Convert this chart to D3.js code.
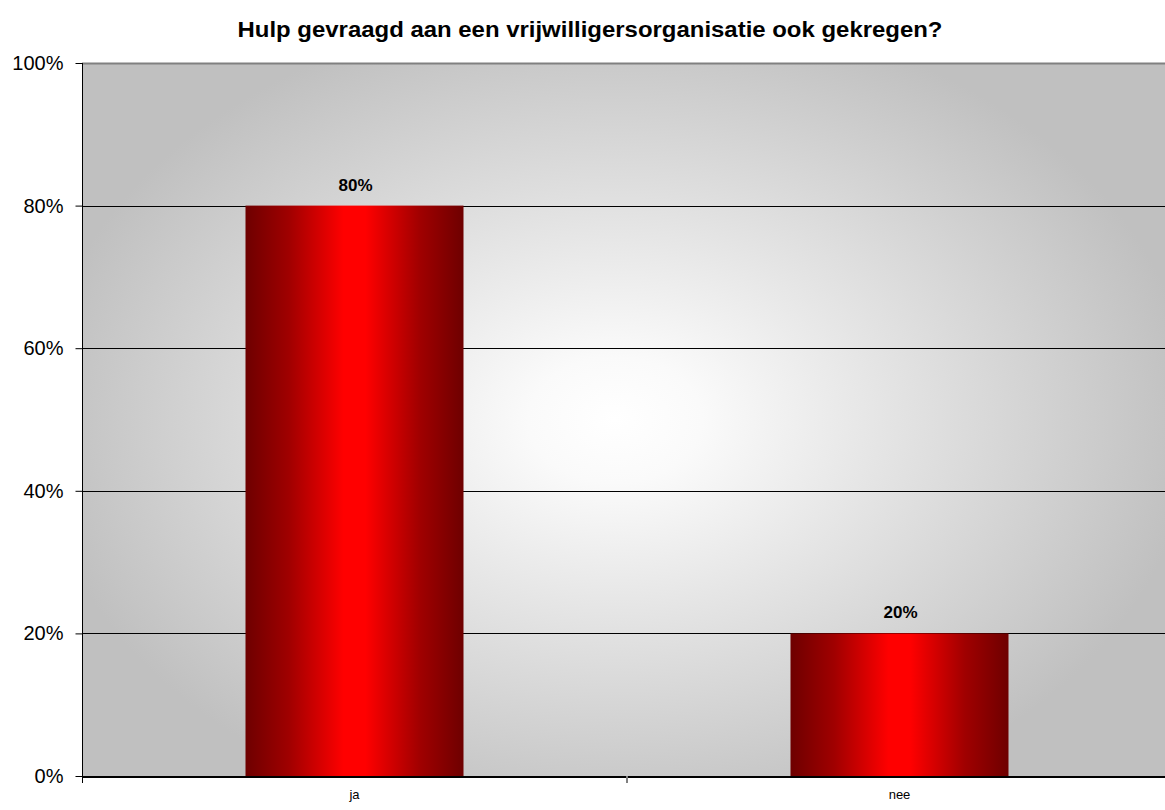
<!DOCTYPE html>
<html><head><meta charset="utf-8">
<script src="https://cdn.jsdelivr.net/npm/d3@7"></script>
<style>html,body{margin:0;padding:0;background:#fff;overflow:hidden}</style>
</head><body>
<svg id="c" width="1165" height="810"></svg>
<script>
const categories = ["ja", "nee"];
const values = [0.80, 0.20];
const labels = ["80%", "20%"];
const yTicks = [0, 0.2, 0.4, 0.6, 0.8, 1.0];
const title = "Hulp gevraagd aan een vrijwilligersorganisatie ook gekregen?";

const svg = d3.select("#c");
const L = 82, R = 1172, T = 63, B = 776;
const x = d3.scaleBand().domain(categories).range([L, R]).paddingInner(0.6).paddingOuter(0.3);
const y = d3.scaleLinear().domain([0, 1]).range([B, T]);

const defs = svg.append("defs");
const bg = defs.append("radialGradient").attr("id", "bg")
  .attr("gradientUnits", "userSpaceOnUse")
  .attr("cx", 615).attr("cy", 420).attr("r", 580)
  .attr("gradientTransform", "translate(615,420) scale(1,0.72) translate(-615,-420)");
bg.append("stop").attr("offset", "0%").attr("stop-color", "#ffffff");
bg.append("stop").attr("offset", "15%").attr("stop-color", "#fafafa");
bg.append("stop").attr("offset", "100%").attr("stop-color", "#c0c0c0");

const bar = defs.append("linearGradient").attr("id", "bar").attr("x1", 0).attr("x2", 1).attr("y1", 0).attr("y2", 0);
[[0, "#6e0000"], [0.2, "#a00000"], [0.45, "#ff0000"], [0.55, "#ff0000"], [0.8, "#a00000"], [1, "#6e0000"]]
  .forEach(([o, c]) => bar.append("stop").attr("offset", o).attr("stop-color", c));

svg.append("rect").attr("x", L).attr("y", T).attr("width", R - L).attr("height", B - T).attr("fill", "url(#bg)");

// gridlines
svg.append("g").selectAll("line").data(yTicks.filter(d => d > 0 && d < 1)).join("line")
  .attr("x1", L).attr("x2", R).attr("y1", d => Math.round(y(d)) + 0.5).attr("y2", d => Math.round(y(d)) + 0.5)
  .attr("stroke", "#000").attr("stroke-width", 1);
svg.append("line").attr("x1", L).attr("x2", R).attr("y1", T + 0.5).attr("y2", T + 0.5)
  .attr("stroke", "#808080").attr("stroke-width", 2);

// bars
svg.append("g").selectAll("rect").data(categories).join("rect")
  .attr("x", d => x(d)).attr("width", x.bandwidth())
  .attr("y", (d, i) => y(values[i])).attr("height", (d, i) => B - y(values[i]))
  .attr("fill", "url(#bar)");

// value labels
svg.append("g").selectAll("text").data(categories).join("text")
  .attr("x", d => x(d) + x.bandwidth() / 2 + 1).attr("y", (d, i) => y(values[i]) - 15)
  .attr("text-anchor", "middle").attr("font-family", "Arial, 'Liberation Sans', sans-serif")
  .attr("font-weight", "bold").attr("font-size", 17).attr("fill", "#000")
  .text((d, i) => labels[i]);

// y axis
const yAxis = d3.axisLeft(y).tickValues(yTicks).tickFormat(d3.format(".0%")).tickSize(7).tickPadding(12);
const gy = svg.append("g").attr("transform", `translate(${L + 0.5},0)`).call(yAxis);
gy.select(".domain").attr("stroke", "#000").attr("d", `M0,${T}V${B}`);
gy.selectAll(".tick line").attr("stroke", "#000");
gy.selectAll(".tick text").attr("font-family", "Arial, 'Liberation Sans', sans-serif").attr("font-size", 20).attr("fill", "#000");

// x axis
const xAxis = d3.axisBottom(x).tickSize(0).tickPadding(14);
const gx = svg.append("g").attr("transform", `translate(0,${B})`).call(xAxis);
gx.select(".domain").remove();
gx.selectAll(".tick text").attr("font-family", "Arial, 'Liberation Sans', sans-serif").attr("font-size", 13).attr("fill", "#000");
svg.append("line").attr("x1", L).attr("x2", R).attr("y1", B + 1).attr("y2", B + 1).attr("stroke", "#000").attr("stroke-width", 2);
// category boundary ticks
const bounds = [x(categories[1]) - x.step() * x.paddingInner() / 2];
svg.append("g").selectAll("line").data(bounds).join("line")
  .attr("x1", d => d).attr("x2", d => d).attr("y1", B).attr("y2", B + 7)
  .attr("stroke", "#808080").attr("stroke-width", 2);
svg.append("line").attr("x1", L + 0.5).attr("x2", L + 0.5).attr("y1", B).attr("y2", B + 7).attr("stroke", "#000");

// title
svg.append("text").attr("x", 590).attr("y", 37).attr("text-anchor", "middle")
  .attr("font-family", "Arial, 'Liberation Sans', sans-serif").attr("font-weight", "bold").attr("font-size", 22)
  .attr("textLength", 705).attr("lengthAdjust", "spacingAndGlyphs")
  .text(title);
</script>
</body></html>
